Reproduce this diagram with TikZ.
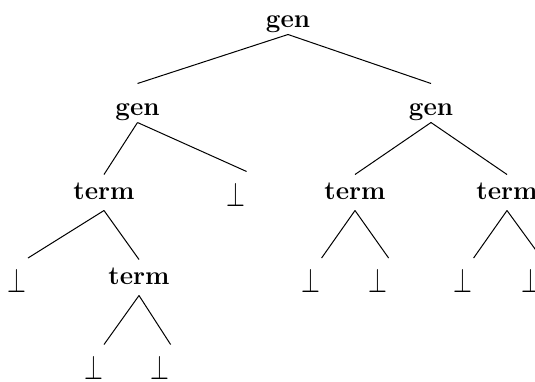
\documentclass[tikz,border=0pt]{standalone}
\usepackage{graphicx}
\begin{document}
\begin{tikzpicture}[x=0.5pt,y=-0.5pt,line width=0.5pt,
  gennode/.style ={anchor=base,inner sep=0pt,font=\fontsize{13}{15}\selectfont\bfseries,text height=15.5pt,text depth=3.5pt},
  termnode/.style ={anchor=base,inner sep=0pt,font=\fontsize{13}{15}\selectfont\bfseries,text height=12pt,text depth=5.5pt},
  botnode/.style ={anchor=base,inner sep=0pt,font=\fontsize{17.28}{20}\selectfont,text width=20pt,align=left,text height=17pt}]

\useasboundingbox (0,0) rectangle (535,381);
\clip (0,0) rectangle (535,381);

%gen
\node[gennode] (G) at (288,27) {gen};
\node[gennode] (GL) at (137.5,115) {gen};
\node[gennode] (GR) at (431,115) {gen};

%term
\node[termnode] (T1) at (104,199) {term};
\node[termnode] (T2) at (355,199) {term};
\node[termnode] (T3) at (507,199) {term};
\node[termnode] (T4) at (139,284) {term};

%bottom
\node[botnode] (B1) at (246.6,206) {\scalebox{0.7}[1]{$\bot$}};
\node[botnode] (B2) at (28,292.5) {\scalebox{0.7}[1]{$\bot$}};
\node[botnode] (B3) at (321.6,292.5) {\scalebox{0.7}[1]{$\bot$}};
\node[botnode] (B4) at (388.6,292.5) {\scalebox{0.7}[1]{$\bot$}};
\node[botnode] (B5) at (473.6,292.5) {\scalebox{0.7}[1]{$\bot$}};
\node[botnode] (B6) at (541.6,292.5) {\scalebox{0.7}[1]{$\bot$}};
\node[botnode] (B7) at (104,379) {\scalebox{0.7}[1]{$\bot$}};
\node[botnode] (B8) at (170.6,379) {\scalebox{0.7}[1]{$\bot$}};

\path (G.south) edge (GL.north);
\path (G.south) edge (GR.north);
\path (GL.south) edge (T1.north);
\path (GL.south) edge (B1.north);
\path (GR.south) edge (T2.north);
\path (GR.south) edge (T3.north);
\path (T1.south) edge (B2.north);
\path (T1.south) edge (T4.north);
\path (T2.south) edge (B3.north);
\path (T2.south) edge (B4.north);
\path (T3.south) edge (B5.north);
\path (T3.south) edge (B6.north);
\path (T4.south) edge (B7.north);
\path (T4.south) edge (B8.north);
\end{tikzpicture}
\end{document}
